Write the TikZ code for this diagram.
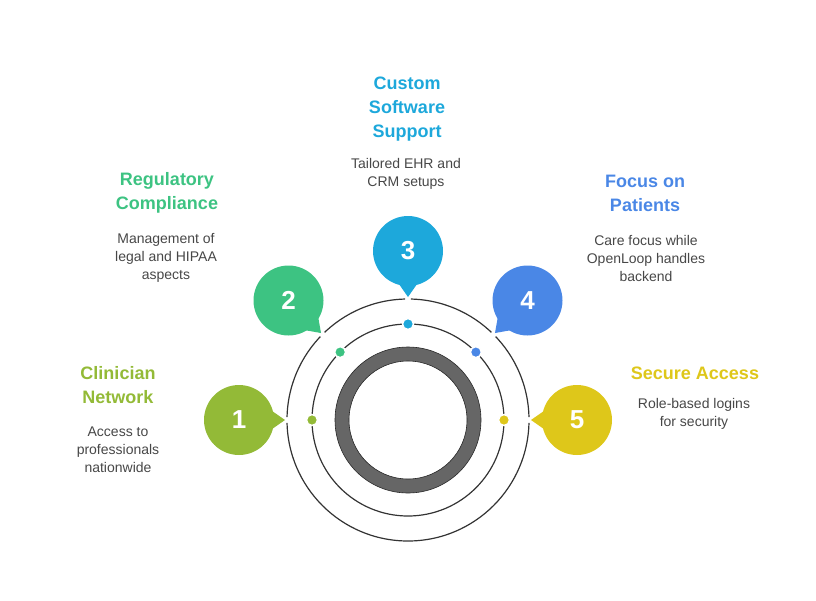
\documentclass[tikz,border=0pt]{standalone}
\usepackage{fontspec}
\setmainfont{Liberation Sans}
\usetikzlibrary{calc}
\definecolor{cone}{HTML}{93BA37}
\definecolor{ctwo}{HTML}{3DC382}
\definecolor{cthree}{HTML}{1DA8DB}
\definecolor{cfour}{HTML}{4A87E6}
\definecolor{cfive}{HTML}{DEC71A}
\definecolor{txt}{HTML}{474747}
\definecolor{ringgray}{HTML}{666666}
\definecolor{linec}{HTML}{333333}
\tikzset{
  circ/.style={draw=linec, line width=1.2pt},
  bubble/.style={circle, fill=#1, minimum size=70pt, inner sep=0pt, text=white, font=\bfseries\fontsize{26}{26}\selectfont},
  dotc/.style={circle, fill=#1, draw=white, line width=1.5pt, minimum size=11pt, inner sep=0pt},
  ttl/.style={text=#1, align=center, inner sep=0pt, font=\bfseries\fontsize{18}{24}\selectfont},
  desc/.style={text=txt, align=center, inner sep=0pt, font=\fontsize{14}{18}\selectfont},
}
\begin{document}
\begin{tikzpicture}[x=1pt,y=-1pt]
\useasboundingbox (0,0) rectangle (816,600);
\coordinate (c) at (408,420);
\draw[circ] (c) circle (121);
\draw[circ] (c) circle (96);
\fill[ringgray, even odd rule] (c) circle (73) (c) circle (59);
\draw[draw=linec!80!black, line width=0.6pt] (c) circle (73) (c) circle (59);
% bubbles
\foreach \a/\col/\n/\nm in {180/cone/1/b1, 225/ctwo/2/b2, 270/cthree/3/b3, 315/cfour/4/b4, 0/cfive/5/b5}{
  \fill[white] ($(c)+(\a:121)$) circle (3);
  \fill[\col] ($(c)+(\a:169)+(\a+180+18:33)$) -- ($(c)+(\a:123)$) -- ($(c)+(\a:169)+(\a+180-18:33)$) -- cycle;
  \node[bubble=\col] (\nm) at ($(c)+(\a:169)$) {\n};
  \node[dotc=\col] (d\n) at ($(c)+(\a:96)$) {};
}
% texts
\node[ttl=cone] (t1) at (118,385) {Clinician\\Network};
\node[desc] (s1) at (118,450) {Access to\\professionals\\nationwide};
\node[ttl=ctwo] (t2) at (167,193) {Regulatory\\Compliance};
\node[desc] (s2) at (166,258) {Management of\\legal and HIPAA\\aspects};
\node[ttl=cthree] (t3) at (407,109) {Custom\\Software\\Support};
\node[desc] (s3) at (406,174) {Tailored EHR and\\CRM setups};
\node[ttl=cfour] (t4) at (645,193) {Focus on\\Patients};
\node[desc] (s4) at (646,258) {Care focus while\\OpenLoop handles\\backend};
\node[ttl=cfive] (t5) at (695,373) {Secure Access};
\node[desc] (s5) at (694,414) {Role-based logins\\for security};
\end{tikzpicture}
\end{document}
